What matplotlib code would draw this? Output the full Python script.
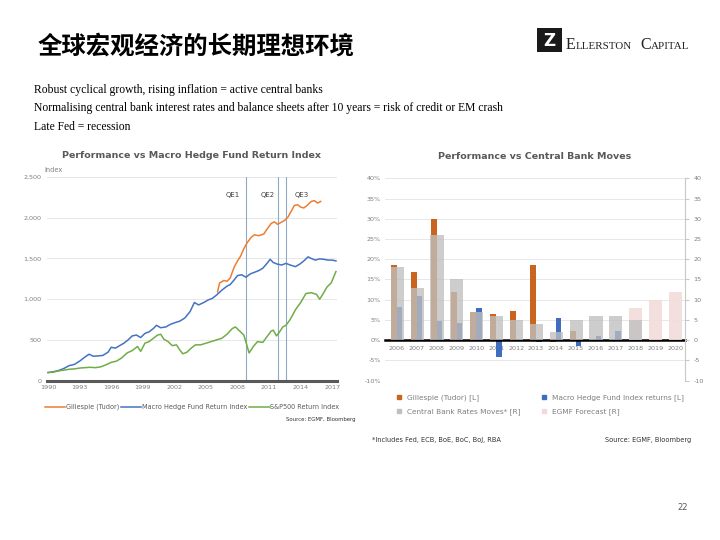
import matplotlib
matplotlib.use("Agg")
import matplotlib.pyplot as plt
from matplotlib.patches import Rectangle
from matplotlib.lines import Line2D
import numpy as np

W, H = 720, 540

# ---- left chart: index levels (year, value) ----
tudor_years = [2006.1, 2006.3, 2006.7, 2007.0, 2007.3, 2007.7, 2008.0, 2008.3, 2008.6, 2008.9,
               2009.3, 2009.6, 2010.0, 2010.5, 2010.8, 2011.2, 2011.5, 2011.8, 2012.1, 2012.5,
               2012.8, 2013.1, 2013.4, 2013.7, 2014.0, 2014.3, 2014.6, 2015.0, 2015.3, 2015.6, 2015.9]
tudor_vals = [1090, 1200, 1230, 1220, 1260, 1400, 1470, 1530, 1620, 1690,
              1760, 1790, 1780, 1800, 1860, 1930, 1950, 1920, 1940, 1970,
              2010, 2080, 2150, 2160, 2130, 2120, 2150, 2200, 2210, 2180, 2200]

macro_years = [1990.0, 1990.5, 1991.0, 1991.5, 1992.0, 1992.5, 1993.0, 1993.5, 1993.9, 1994.3,
               1994.8, 1995.2, 1995.7, 1996.0, 1996.4, 1996.8, 1997.2, 1997.6, 1998.0, 1998.4,
               1998.8, 1999.2, 1999.6, 2000.0, 2000.3, 2000.7, 2001.2, 2001.6, 2002.0, 2002.5,
               2003.0, 2003.5, 2003.9, 2004.3, 2004.8, 2005.2, 2005.6, 2006.0, 2006.5, 2007.0,
               2007.3, 2007.7, 2008.0, 2008.4, 2008.8, 2009.2, 2009.6, 2010.0, 2010.4, 2010.8,
               2011.1, 2011.4, 2011.8, 2012.2, 2012.6, 2013.0, 2013.5, 2013.9, 2014.3, 2014.7,
               2015.0, 2015.4, 2015.8, 2016.2, 2016.6, 2017.0, 2017.35]
macro_vals = [100, 110, 125, 150, 185, 200, 240, 290, 325, 300,
              305, 310, 350, 410, 400, 430, 460, 500, 550, 560,
              530, 580, 600, 640, 680, 650, 660, 690, 710, 730,
              770, 850, 960, 930, 960, 990, 1010, 1050, 1110, 1160,
              1180, 1240, 1290, 1300, 1270, 1310, 1330, 1350, 1380, 1440,
              1490, 1450, 1430, 1420, 1440, 1420, 1400, 1430, 1470, 1520,
              1500, 1480, 1495, 1490, 1480, 1480, 1470]

spx_years = [1990.0, 1990.5, 1991.0, 1991.5, 1992.0, 1992.5, 1993.0, 1993.5, 1994.0, 1994.5,
             1995.0, 1995.5, 1996.0, 1996.5, 1997.0, 1997.5, 1998.0, 1998.5, 1998.8, 1999.2,
             1999.6, 2000.0, 2000.4, 2000.7, 2001.0, 2001.4, 2001.8, 2002.2, 2002.5, 2002.8,
             2003.2, 2003.6, 2004.0, 2004.5, 2005.0, 2005.5, 2006.0, 2006.5, 2007.0, 2007.5,
             2007.8, 2008.2, 2008.6, 2008.9, 2009.1, 2009.5, 2009.9, 2010.4, 2010.8, 2011.2,
             2011.4, 2011.7, 2012.0, 2012.3, 2012.6, 2013.0, 2013.5, 2014.0, 2014.5, 2015.0,
             2015.5, 2015.8, 2016.1, 2016.5, 2016.9, 2017.35]
spx_vals = [100, 105, 120, 130, 140, 145, 155, 160, 165, 160,
            170, 195, 225, 240, 280, 340, 370, 420, 360, 460,
            480, 520, 560, 570, 510, 480, 430, 440, 380, 330,
            350, 400, 440, 440, 460, 480, 500, 520, 570, 640,
            660, 610, 560, 430, 340, 420, 480, 470, 540, 610,
            620, 550, 600, 660, 680, 750, 870, 960, 1070, 1080,
            1060, 1000, 1060, 1150, 1200, 1340]

qe_dates = [2008.8, 2011.8, 2012.6]
qe_labels = ["QE1", "QE2", "QE3"]
qe_label_x = [2007.5, 2010.9, 2014.1]
year_ticks = list(range(1990, 2018, 3))
index_ticks = [0, 500, 1000, 1500, 2000, 2500]

# ---- right chart: annual values ----
bar_years = [str(y) for y in range(2006, 2021)]
tudor_ret = [18.5, 16.8, 30.0, 12.0, 7.0, 6.5, 7.3, 18.7, -0.4, 2.3, 0, 0, 0, 0, 0]
macro_ret = [8.2, 11.0, 4.8, 4.3, 8.0, -4.1, 0, -0.4, 5.5, -1.5, 1.0, 2.2, 0, 0, 0]
cb_moves = [18, 13, 26, 15, 7, 6, 5, 4, 2, 5, 6, 6, 5, 0, 0]
egmf_fc = [0, 0, 0, 0, 0, 0, 0, 0, 0, 0, 0, 0, 8, 10, 12]
pct_ticks = [-10, -5, 0, 5, 10, 15, 20, 25, 30, 35, 40]

ORANGE = "#ED7D31"
BLUE = "#4472C4"
GREEN = "#70AD47"
BAR_OR = "#C9651F"
BAR_BL = "#3F6DBF"
GRAY = "#BFBFBF"
PINK = "#F2DCDB"
TXT = "#595959"
TICK = "#7F7F7F"
GRID = "#E3E3E3"


def box(x0, y0, x1, y1):
    return [x0 / W, 1 - y1 / H, (x1 - x0) / W, (y1 - y0) / H]


def ftext(x, y, s, **kw):
    fig.text(x / W, 1 - y / H, s, **kw)


fig = plt.figure(figsize=(7.2, 5.4), dpi=100)
fig.patch.set_facecolor("white")

# header
ftext(38, 47, "全球宏观经济的长期理想环境", fontsize=17.6, weight="black",
      family=["Noto Sans CJK SC", "DejaVu Sans"], va="center", ha="left", color="black")
lines = ["Robust cyclical growth, rising inflation = active central banks",
         "Normalising central bank interest rates and balance sheets after 10 years = risk of credit or EM crash",
         "Late Fed = recession"]
for i, s in enumerate(lines):
    ftext(34, 90 + i * 18.5, s, fontsize=8.4, family="Liberation Serif", va="center", color="black")

# logo
fig.patches.append(Rectangle((537 / W, 1 - 52 / H), 25 / W, 24 / H, transform=fig.transFigure,
                             facecolor="#1A1A1A", edgecolor="none"))
ftext(549.5, 40.5, "Z", fontsize=12, weight="bold", color="white", ha="center", va="center",
      family="DejaVu Sans")
serif = "Liberation Serif"
ftext(566, 49, "E", fontsize=11.5, family=serif, va="baseline", color="#222222")
ftext(576, 49, "LLERSTON", fontsize=7.9, family=serif, va="baseline", color="#222222")
ftext(640, 49, "C", fontsize=11.5, family=serif, va="baseline", color="#222222")
ftext(651, 49, "APITAL", fontsize=7.9, family=serif, va="baseline", color="#222222")

ftext(683, 507, "22", fontsize=6, color=TXT, ha="center", va="center")

# ---- left chart ----
ax = fig.add_axes(box(47, 177, 337, 380.7))
ax.plot(tudor_years, tudor_vals, color=ORANGE, lw=1.1, label="Gillespie (Tudor)")
ax.plot(macro_years, macro_vals, color=BLUE, lw=1.1, label="Macro Hedge Fund Return Index")
ax.plot(spx_years, spx_vals, color=GREEN, lw=1.1, label="S&P500 Return Index")
for d in qe_dates:
    ax.axvline(d, color="#8FAAC6", lw=0.8, zorder=1)
for xl, lab in zip(qe_label_x, qe_labels):
    ax.text(xl, 2280, lab, fontsize=5, color="#404040", ha="center", va="center")
ax.set_xlim(1989.9, 2017.45)
ax.set_ylim(0, 2500)
ax.set_xticks(year_ticks)
ax.set_yticks(index_ticks)
ax.set_yticklabels([f"{v:,}" for v in index_ticks])
ax.grid(axis="y", color=GRID, lw=0.6)
ax.set_axisbelow(True)
for s in ["left", "right", "top"]:
    ax.spines[s].set_visible(False)
ax.spines["bottom"].set_color(TXT)
ax.spines["bottom"].set_linewidth(2.2)
ax.tick_params(length=0, labelsize=4.6, labelcolor=TICK, pad=4)
ax.tick_params(axis="x", pad=3)
ax.set_title("Performance vs Macro Hedge Fund Return Index", fontsize=6.8, weight="bold",
             color=TXT, pad=14)
ax.text(-0.01, 1.035, "Index", transform=ax.transAxes, fontsize=4.8, color=TICK, ha="left", va="center")
ax.legend(loc="upper center", bbox_to_anchor=(0.5, -0.085), ncol=3, frameon=False,
          fontsize=4.7, handlelength=3.2, handletextpad=0.1, columnspacing=0.2,
          labelcolor=TXT)
ftext(356, 420, "Source: EGMF, Bloomberg", fontsize=3.9, color="#333333", ha="right", va="center")

# ---- right chart ----
axr = fig.add_axes(box(385, 178.3, 685, 380.7))
x = np.arange(len(bar_years))
axr.bar(x - 0.15, tudor_ret, width=0.3, color=BAR_OR, label="Gillespie (Tudor) [L]", zorder=2)
axr.bar(x + 0.14, macro_ret, width=0.28, color=BAR_BL, label="Macro Hedge Fund Index returns [L]", zorder=2)
axr.set_xlim(-0.6, 14.5)
axr.set_ylim(-10, 40)
axr.set_yticks(pct_ticks)
axr.set_yticklabels([f"{v}%" for v in pct_ticks])
axr.set_xticks(x)
axr.set_xticklabels(bar_years)
axr.grid(axis="y", color=GRID, lw=0.6)
axr.set_axisbelow(True)
for s in ["left", "right", "top"]:
    axr.spines[s].set_visible(False)
axr.spines["bottom"].set_position(("data", 0))
axr.spines["bottom"].set_color("black")
axr.spines["bottom"].set_linewidth(1.8)
axr.spines["bottom"].set_zorder(5)
axr.tick_params(length=0, labelsize=4.6, labelcolor=TICK)
axr.tick_params(axis="y", pad=3)
axr.tick_params(axis="x", pad=4)
axr.set_title("Performance vs Central Bank Moves", fontsize=6.8, weight="bold", color=TXT, pad=14)

ax2 = axr.twinx()
ax2.bar(x + 0.02, egmf_fc, width=0.66, color=PINK, alpha=0.9, label="EGMF Forecast [R]", zorder=2)
ax2.bar(x + 0.02, cb_moves, width=0.66, color=GRAY, alpha=0.78, label="Central Bank Rates Moves* [R]", zorder=3)
ax2.set_ylim(-10, 40)
ax2.set_yticks(pct_ticks)
ax2.set_yticklabels([str(v) for v in pct_ticks])
for s in ["left", "bottom", "top"]:
    ax2.spines[s].set_visible(False)
ax2.spines["right"].set_color("#C8C8C8")
ax2.spines["right"].set_linewidth(0.8)
ax2.tick_params(axis="y", length=3, color="#C8C8C8", labelsize=4.6, labelcolor=TICK, pad=3)

sq = dict(marker="s", linestyle="none", markersize=3.2)
handles = [Line2D([], [], color=BAR_OR, **sq), Line2D([], [], color=BAR_BL, **sq),
           Line2D([], [], color=GRAY, **sq), Line2D([], [], color=PINK, **sq)]
labels = ["Gillespie (Tudor) [L]", "Macro Hedge Fund Index returns [L]",
          "Central Bank Rates Moves* [R]", "EGMF Forecast [R]"]
order = [0, 2, 1, 3]
axr.legend([handles[i] for i in order], [labels[i] for i in order], loc="upper left",
           bbox_to_anchor=(0.0, -0.035), ncol=2, frameon=False, fontsize=5.3,
           handletextpad=0.05, columnspacing=2.2, labelspacing=0.9, labelcolor=TICK)
ftext(372, 440, "*Includes Fed, ECB, BoE, BoC, BoJ, RBA", fontsize=4.8, color="#333333", va="center")
ftext(691, 440, "Source: EGMF, Bloomberg", fontsize=4.8, color="#333333", ha="right", va="center")

fig.savefig("out.png", dpi=100)
